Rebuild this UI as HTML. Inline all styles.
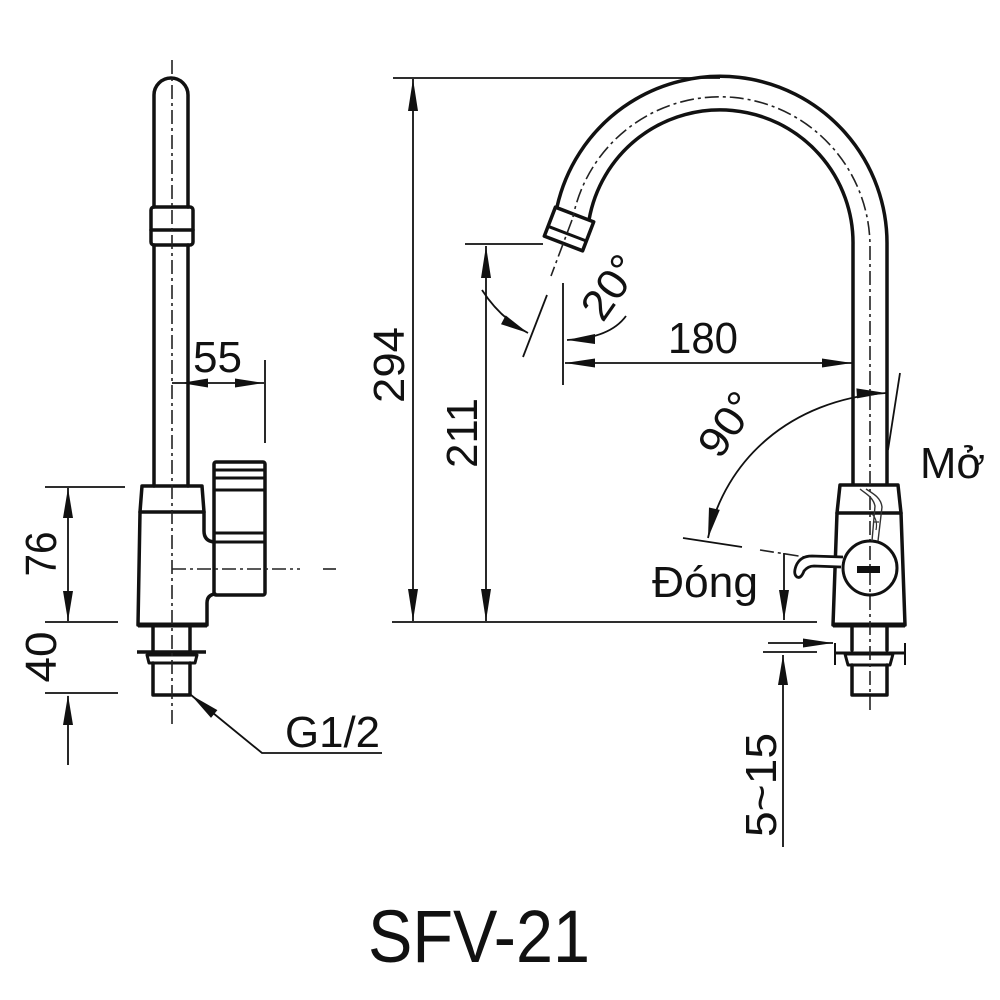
<!DOCTYPE html>
<html>
<head>
<meta charset="utf-8">
<style>
  html, body { margin: 0; padding: 0; background: #fff; }
  svg { display: block; }
  text { font-family: "Liberation Sans", Arial, sans-serif; fill: #111; }
</style>
</head>
<body>
<svg width="1000" height="1000" viewBox="0 0 1000 1000" xmlns="http://www.w3.org/2000/svg">
  <rect width="1000" height="1000" fill="#fff"/>

  <!-- ================= LEFT VIEW ================= -->
  <g fill="none" stroke="#111" stroke-width="3.5" stroke-linejoin="round" stroke-linecap="round">
    <!-- tube top with rounded cap -->
    <path d="M154,207 V95 A17,17 0 0 1 188,95 V207"/>
    <!-- collar -->
    <rect x="151" y="207" width="42" height="38" rx="3"/>
    <line x1="151" y1="230" x2="193" y2="230"/>
    <!-- tube lower -->
    <path d="M154,245 V486 M188,245 V486"/>
    <!-- body cap -->
    <path d="M142,486 H202 L204,512 H140 Z"/>
    <!-- body lower -->
    <path d="M140,512 L138,625 H207 V603 Q207,595 215,594"/>
    <path d="M204,512 V531 Q204,541 214,542"/>
    <!-- handle -->
    <rect x="214" y="462" width="51" height="133" rx="2"/>
    <path d="M214,470 H265 M214,478 H265 M214,490 H265 M214,533 H265 M214,542 H265" stroke-width="3"/>
    <!-- stem -->
    <path d="M153,625 V652 M190,625 V652"/>
    <!-- nut -->
    <path d="M147,655 H197 L195,663 H149 Z" stroke-width="3"/>
    <!-- lower pipe -->
    <path d="M153,663 V695 H190 V663"/>
  </g>
  <line x1="138" y1="625" x2="207" y2="625" stroke="#111" stroke-width="5"/>
  <line x1="137" y1="652" x2="206" y2="652" stroke="#111" stroke-width="3.5"/>

  <!-- left centerlines -->
  <g stroke="#222" stroke-width="1.6" stroke-dasharray="14 4 3 4" fill="none">
    <line x1="172" y1="60" x2="172" y2="725"/>
    <line x1="172" y1="569" x2="300" y2="569"/>
  </g>
  <line x1="323" y1="569" x2="336" y2="569" stroke="#222" stroke-width="1.6"/>

  <!-- left dimensions -->
  <g stroke="#111" stroke-width="1.8" fill="none">
    <!-- 55 -->
    <line x1="172" y1="383" x2="264" y2="383"/>
    <line x1="265" y1="360" x2="265" y2="443"/>
    <!-- 76 / 40 ext lines -->
    <line x1="45" y1="487" x2="125" y2="487"/>
    <line x1="45" y1="622" x2="118" y2="622"/>
    <line x1="45" y1="693" x2="118" y2="693"/>
    <line x1="68" y1="488" x2="68" y2="621"/>
    <line x1="68" y1="696" x2="68" y2="765"/>
    <!-- G1/2 leader -->
    <path d="M191,695 L262,753 H382"/>
  </g>
  <g fill="#111" stroke="none">
    <polygon points="181,383 208,378.5 208,387.5"/>
    <polygon points="264,383 235,378.5 235,387.5"/>
    <polygon points="68,488 63,518 73,518"/>
    <polygon points="68,621 63,591 73,591"/>
    <polygon points="68,695 63,725 73,725"/>
    <polygon points="191,695 217.4,710.1 211,717.9"/>
  </g>

  <text x="217.5" y="372" font-size="44" text-anchor="middle" textLength="49" lengthAdjust="spacingAndGlyphs">55</text>
  <text transform="translate(40,554) rotate(-90)" x="0" y="16" font-size="44" text-anchor="middle" textLength="45" lengthAdjust="spacingAndGlyphs">76</text>
  <text transform="translate(40,657) rotate(-90)" x="0" y="16" font-size="44" text-anchor="middle" textLength="51" lengthAdjust="spacingAndGlyphs">40</text>
  <text x="285" y="747" font-size="44" textLength="95" lengthAdjust="spacingAndGlyphs">G1/2</text>

  <!-- ================= RIGHT VIEW ================= -->
  <!-- spout -->
  <g fill="none" stroke="#111" stroke-width="3.5" stroke-linejoin="round" stroke-linecap="round">
    <path d="M887,485 V245 A167,167 0 0 0 557,207"/>
    <path d="M853,485 V245 A133,133 0 0 0 589,220"/>
    <!-- nozzle -->
    <g transform="translate(569,229) rotate(21)">
      <rect x="-20.5" y="-15.5" width="41" height="31" fill="#fff"/>
      <line x1="-20.5" y1="5" x2="20.5" y2="5" stroke-width="3"/>
    </g>
    <!-- body cap -->
    <path d="M840,485 H898 L901,513 H837 Z" fill="#fff"/>
    <!-- body lower -->
    <path d="M837,513 L833,625 H905 L901,513"/>
    <!-- stem -->
    <path d="M852,625 V650 M887,625 V650"/>
    <!-- nut -->
    <path d="M845,654 H893 L890,665 H848 Z" stroke-width="3"/>
    <!-- lower pipe -->
    <path d="M852,665 V695 H887 V665"/>
  </g>
  <line x1="833" y1="625" x2="905" y2="625" stroke="#111" stroke-width="5"/>
  <line x1="835" y1="653" x2="905" y2="653" stroke="#111" stroke-width="3"/>
  <path d="M835,643 V665 M905,643 V665" stroke="#111" stroke-width="2" fill="none"/>

  <!-- spout centerlines -->
  <g stroke="#222" stroke-width="1.6" stroke-dasharray="14 4 3 4" fill="none">
    <path d="M870,710 V245 A150,150 0 0 0 573,217"/>
    <line x1="572" y1="220" x2="551" y2="276"/>
    <line x1="760" y1="550" x2="805" y2="557"/>
  </g>

  <!-- valve circle and lever -->
  <circle cx="870" cy="568" r="27" fill="none" stroke="#111" stroke-width="3"/>
  <rect x="857" y="566" width="23" height="7" fill="#111"/>
  <path d="M843,557 L812,556 Q800,556 796,566 Q793,574 797,577 Q801,579 804,571 Q808,566 814,566 L841,567"
        fill="#fff" stroke="#111" stroke-width="2.8" stroke-linejoin="round"/>
  <!-- ghost open-lever lines -->
  <path d="M860,489 C866,494 873,497 875,506 L872,541 M866,489 C874,494 881,498 882,507 L878,541"
        fill="none" stroke="#333" stroke-width="1.4"/>
  <path d="M872,514 Q878,520 876,530 M873,522 L879,522" fill="none" stroke="#333" stroke-width="1.2"/>

  <!-- right dimensions -->
  <g stroke="#111" stroke-width="1.8" fill="none">
    <line x1="393" y1="78" x2="720" y2="78"/>
    <line x1="413" y1="79" x2="413" y2="621"/>
    <line x1="392" y1="622" x2="817" y2="622"/>
    <line x1="465" y1="244" x2="543" y2="244"/>
    <line x1="486" y1="246" x2="486" y2="621"/>
    <!-- 20 deg lines -->
    <line x1="547" y1="295" x2="523" y2="357"/>
    <line x1="563" y1="283" x2="563" y2="385"/>
    <path d="M482,290 Q500,318 528,333"/>
    <path d="M626,316 Q610,338 567,340"/>
    <!-- 180 -->
    <line x1="565" y1="363" x2="852" y2="363"/>
    <!-- Mo line -->
    <line x1="900" y1="373" x2="888" y2="450"/>
    <!-- 90 arc -->
    <path d="M708,538 C725,460 790,400 886,393"/>
    <!-- Dong line -->
    <line x1="683" y1="538" x2="742" y2="547"/>
    <line x1="784" y1="553" x2="784" y2="620"/>
    <!-- 5~15 -->
    <line x1="768" y1="643" x2="833" y2="643"/>
    <line x1="763" y1="652" x2="817" y2="652"/>
    <line x1="783" y1="655" x2="783" y2="847"/>
  </g>
  <g fill="#111" stroke="none">
    <polygon points="413,79 408,111 418,111"/>
    <polygon points="413,621 408,589 418,589"/>
    <polygon points="486,246 481,278 491,278"/>
    <polygon points="486,621 481,589 491,589"/>
    <polygon points="565,363 595,358.5 595,367.5"/>
    <polygon points="852,363 822,358.5 822,367.5"/>
    <polygon points="528,333 501,324.2 505.7,315.4"/>
    <polygon points="567,340 595,334 595,344"/>
    <polygon points="708,538 719.8,509.9 709,507.5"/>
    <polygon points="886,393 857,398.4 856.4,388.4"/>
    <polygon points="784,620 779,590 789,590"/>
    <polygon points="833,643 803,638.5 803,647.5"/>
    <polygon points="783,655 778,685 788,685"/>
  </g>

  <text x="703" y="353" font-size="44" text-anchor="middle" textLength="70" lengthAdjust="spacingAndGlyphs">180</text>
  <text transform="translate(388,365) rotate(-90)" x="0" y="16" font-size="44" text-anchor="middle" textLength="76" lengthAdjust="spacingAndGlyphs">294</text>
  <text transform="translate(461,433) rotate(-90)" x="0" y="16" font-size="44" text-anchor="middle" textLength="70" lengthAdjust="spacingAndGlyphs">211</text>
  <text transform="translate(610,287) rotate(-55)" x="0" y="15" font-size="43" text-anchor="middle" textLength="68" lengthAdjust="spacingAndGlyphs">20°</text>
  <text transform="translate(727,424) rotate(-55)" x="0" y="15" font-size="43" text-anchor="middle" textLength="68" lengthAdjust="spacingAndGlyphs">90°</text>
  <text x="920" y="478" font-size="44" textLength="65" lengthAdjust="spacingAndGlyphs">Mở</text>
  <text x="652" y="597" font-size="44" textLength="106" lengthAdjust="spacingAndGlyphs">Đóng</text>
  <text transform="translate(761,785) rotate(-90)" x="0" y="15" font-size="44" text-anchor="middle" textLength="104" lengthAdjust="spacingAndGlyphs">5~15</text>

  <!-- title -->
  <text x="368" y="962" font-size="74" textLength="222" lengthAdjust="spacingAndGlyphs">SFV-21</text>
</svg>
</body>
</html>
